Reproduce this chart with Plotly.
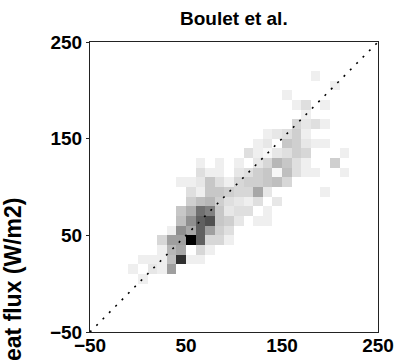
import plotly.graph_objects as go

# 2D histogram cells (lower bin edge, W/m2) and counts, bin width 10
cell_x = [180,
          200,
          150,
          160, 170, 190,
          170,
          160, 170, 180, 190,
          130, 140, 150, 160, 170,
          120, 130, 150, 160, 170, 180, 190,
          110, 120, 130, 140, 150, 160, 170, 210,
          60, 80, 100, 120, 130, 140, 150, 160, 170, 200,
          60, 70, 80, 100, 110, 120, 130, 140, 150, 160, 170, 180, 210,
          40, 50, 60, 70, 80, 90, 100, 110, 120, 130, 140, 150,
          50, 60, 70, 80, 90, 100, 110, 120, 130, 190,
          50, 60, 70, 80, 90, 100, 110, 120, 140,
          40, 50, 60, 70, 80, 90, 100, 110, 130,
          40, 50, 60, 70, 80, 90, 100, 120, 130,
          30, 40, 50, 60, 70, 80, 90,
          20, 30, 40, 50, 60, 70, 80, 90,
          20, 30, 40, 60, 70,
          0, 10, 20, 30, 40, 50, 60,
          -10, 10, 20, 30,
          0]
cell_y = [210,
          200,
          190,
          180, 180, 180,
          170,
          160, 160, 160, 160,
          150, 150, 150, 150, 150,
          140, 140, 140, 140, 140, 140, 140,
          130, 130, 130, 130, 130, 130, 130, 130,
          120, 120, 120, 120, 120, 120, 120, 120, 120, 120,
          110, 110, 110, 110, 110, 110, 110, 110, 110, 110, 110, 110, 110,
          100, 100, 100, 100, 100, 100, 100, 100, 100, 100, 100, 100,
          90, 90, 90, 90, 90, 90, 90, 90, 90, 90,
          80, 80, 80, 80, 80, 80, 80, 80, 80,
          70, 70, 70, 70, 70, 70, 70, 70, 70,
          60, 60, 60, 60, 60, 60, 60, 60, 60,
          50, 50, 50, 50, 50, 50, 50,
          40, 40, 40, 40, 40, 40, 40, 40,
          30, 30, 30, 30, 30,
          20, 20, 20, 20, 20, 20, 20,
          10, 10, 10, 10,
          0]
cell_n = [2,
          2,
          2,
          2, 4, 2,
          2,
          5, 3, 4, 2,
          2, 3, 4, 6, 2,
          2, 3, 7, 6, 3, 2, 2,
          4, 2, 1, 3, 4, 6, 5, 2,
          2, 2, 2, 3, 5, 9, 7, 4, 2, 6,
          4, 2, 2, 3, 4, 6, 7, 1, 8, 4, 2, 2, 2,
          2, 2, 3, 7, 4, 2, 5, 6, 6, 7, 8, 5,
          4, 2, 7, 7, 6, 5, 5, 11, 3, 2,
          6, 8, 9, 6, 4, 3, 2, 4, 3,
          7, 10, 18, 16, 7, 3, 4, 4, 2,
          8, 14, 20, 22, 7, 6, 3, 2, 2,
          2, 14, 11, 20, 12, 6, 4,
          5, 12, 12, 32, 20, 5, 5, 2,
          2, 9, 11, 5, 2,
          2, 2, 2, 8, 26, 2, 2,
          2, 3, 2, 12,
          2]

bin_edges = list(range(-50, 250, 10))
bin_centers = [e + 5 for e in bin_edges]
axis_min, axis_max = -50, 250
tick_vals = [-50, 50, 150, 250]

z = [[None] * len(bin_edges) for _ in bin_edges]
for xv, yv, n in zip(cell_x, cell_y, cell_n):
    z[bin_edges.index(yv)][bin_edges.index(xv)] = n

fig = go.Figure()
fig.add_trace(go.Heatmap(
    x=bin_centers, y=bin_centers, z=z,
    colorscale=[[0, "white"], [1, "black"]],
    zmin=0, zmax=32, showscale=False, hoverinfo="skip"))
fig.add_trace(go.Scatter(
    x=[axis_min, axis_max], y=[axis_min, axis_max], mode="lines",
    line=dict(color="black", width=1.6, dash="2px,7px"),
    hoverinfo="skip", showlegend=False))

font_bold = dict(family="Liberation Sans, Arial, sans-serif", size=19,
                 color="black", weight="bold")
axis_common = dict(range=[axis_min, axis_max], tickvals=tick_vals,
                   showgrid=False, zeroline=False, showline=True, mirror=True,
                   linecolor="#222", linewidth=1,
                   tickcolor="#222", tickfont=font_bold, automargin=False)

fig.update_layout(
    width=400, height=362,
    margin=dict(l=90, r=22, t=42, b=30),
    paper_bgcolor="white", plot_bgcolor="white",
    showlegend=False,
    xaxis=dict(axis_common, ticks="", ticklabelstandoff=-4),
    yaxis=dict(axis_common, ticks="outside", ticklen=3),
    annotations=[
        dict(text="<b>Boulet et al.</b>", xref="paper", yref="paper",
             x=0.5, y=(332 - 19) / 290, xanchor="center", yanchor="middle",
             showarrow=False,
             font=dict(family="Liberation Sans, Arial, sans-serif", size=19,
                       color="black")),
        dict(text="<b>Latent heat flux (W/m2)</b>", xref="paper", yref="paper",
             x=(12 - 90) / 288, y=(332 - 196) / 290, xanchor="center",
             yanchor="top", textangle=-90, showarrow=False,
             font=dict(family="Liberation Sans, Arial, sans-serif", size=23,
                       color="black")),
    ],
)

fig.write_html("out.html")
